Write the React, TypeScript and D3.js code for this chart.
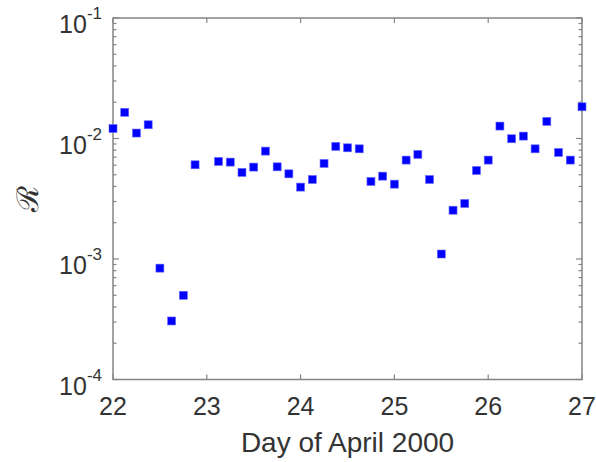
import React from "react";
import * as d3 from "d3";

const days = [
  22.0, 22.125, 22.25, 22.375, 22.5, 22.625, 22.75, 22.875,
  23.125, 23.25, 23.375, 23.5, 23.625, 23.75, 23.875,
  24.0, 24.125, 24.25, 24.375, 24.5, 24.625, 24.75, 24.875,
  25.0, 25.125, 25.25, 25.375, 25.5, 25.625, 25.75, 25.875,
  26.0, 26.125, 26.25, 26.375, 26.5, 26.625, 26.75, 26.875, 27.0,
];
const rValues = [
  0.0121, 0.0165, 0.0111, 0.013, 0.00084, 0.000306, 0.0005, 0.00605,
  0.00645, 0.00637, 0.00523, 0.00579, 0.00786, 0.00582, 0.00509,
  0.00395, 0.00457, 0.00621, 0.0086, 0.00837, 0.00821, 0.0044, 0.00487,
  0.00418, 0.00662, 0.00738, 0.00457, 0.0011, 0.00254, 0.00289, 0.00543,
  0.00662, 0.01268, 0.00995, 0.01047, 0.00821, 0.01387, 0.00766, 0.00662, 0.01833,
];
const xTicks = [22, 23, 24, 25, 26, 27];
const yExponents = [-4, -3, -2, -1];

const W = 596, H = 462;
const L = 113, R = 582, T = 18, B = 379.5;

export default function App() {
  const x = d3.scaleLinear().domain([22, 27]).range([L, R]);
  const y = d3.scaleLog().domain([1e-4, 1e-1]).range([B, T]);
  const axisColor = "#858585";
  const textColor = "#333333";
  const font = "'Liberation Sans', Arial, Helvetica, sans-serif";
  const minor: number[] = [];
  for (let e = -4; e < -1; e++) {
    for (let k = 2; k <= 9; k++) minor.push(k * Math.pow(10, e));
  }
  const ms = 8;
  return (
    <svg width={W} height={H} style={{ position: "absolute", left: 0, top: 0 }}>
      <rect x={0} y={0} width={W} height={H} fill="#fff" />
      <g stroke={axisColor} strokeWidth={1.2}>
        {xTicks.map((t) => (
          <g key={"xt" + t}>
            <line x1={x(t)} x2={x(t)} y1={B} y2={B - 5} />
            <line x1={x(t)} x2={x(t)} y1={T} y2={T + 5} />
          </g>
        ))}
        {yExponents.map((e) => (
          <g key={"yt" + e}>
            <line x1={L} x2={L + 6} y1={y(Math.pow(10, e))} y2={y(Math.pow(10, e))} />
            <line x1={R} x2={R - 6} y1={y(Math.pow(10, e))} y2={y(Math.pow(10, e))} />
          </g>
        ))}
        {minor.map((v, i) => (
          <g key={"ym" + i}>
            <line x1={L} x2={L + 3.5} y1={y(v)} y2={y(v)} />
            <line x1={R} x2={R - 3.5} y1={y(v)} y2={y(v)} />
          </g>
        ))}
      </g>
      <rect x={L} y={T} width={R - L} height={B - T} fill="none" stroke={axisColor} strokeWidth={1.5} />
      <g fill="#0000ff" stroke="#6a6aff" strokeWidth={0.6}>
        {days.map((d, i) => (
          <rect key={i} x={x(d) - ms / 2} y={y(rValues[i]) - ms / 2} width={ms} height={ms} />
        ))}
      </g>
      <g fill={textColor} fontFamily={font} fontSize={25} textAnchor="middle">
        {xTicks.map((t) => (
          <text key={"xl" + t} x={x(t)} y={B + 35.5}>{t}</text>
        ))}
      </g>
      <g fill={textColor} fontFamily={font}>
        {yExponents.map((e) => (
          <text key={"yl" + e} x={L - 11} y={y(Math.pow(10, e)) + 15} textAnchor="end" fontSize={25}>
            10
            <tspan fontSize={17} dy={-14}>{String(e)}</tspan>
          </text>
        ))}
      </g>
      <text x={(L + R) / 2} y={451.5} textAnchor="middle" fill={textColor} fontFamily={font} fontSize={28}>
        Day of April 2000
      </text>
      <text
        transform={`translate(38, ${(T + B) / 2}) rotate(-90)`}
        textAnchor="middle"
        fill={textColor}
        fontFamily="'DejaVu Serif', serif"
        fontSize={30}
      >
        ℛ
      </text>
    </svg>
  );
}
